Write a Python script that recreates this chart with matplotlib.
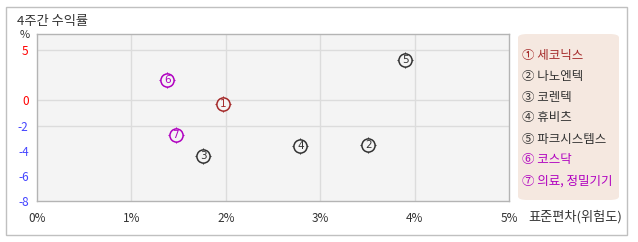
import numpy as np
import matplotlib
matplotlib.use("Agg")
import matplotlib.pyplot as plt
from matplotlib.patches import FancyBboxPatch, Rectangle

plt.rcParams['font.family'] = ['Noto Sans CJK KR', 'DejaVu Sans']

# 데이터
names = ['세코닉스', '나노엔텍', '코렌텍', '휴비츠', '파크시스템스', '코스닥', '의료,정밀기기']
nums = ['1', '2', '3', '4', '5', '6', '7']
circled = ['①', '②', '③', '④', '⑤', '⑥', '⑦']
risk = [1.97, 3.51, 1.76, 2.79, 3.90, 1.38, 1.47]      # 표준편차 (%)
ret = [-0.3, -3.55, -4.43, -3.63, 4.0, 2.07, -2.75]     # 4주간 수익률 (%)
colors = ['#a52a2a', '#333333', '#333333', '#333333', '#333333', '#b000c0', '#b000c0']

xticks = [0, 1, 2, 3, 4, 5]
yticks = [5, 0, -2, -4, -6, -8]
ygrid = [5, 0, -2]


# y축: 양수는 10px/단위, 음수는 12.5px/단위
def fwd(y):
    y = np.asarray(y, dtype=float)
    return np.where(y >= 0, y * 10.0, y * 12.5)


def inv(v):
    v = np.asarray(v, dtype=float)
    return np.where(v >= 0, v / 10.0, v / 12.5)


W, H = 638, 242
fig = plt.figure(figsize=(W / 100, H / 100), dpi=100)
fig.patch.set_facecolor('white')

# 바깥 테두리
fig.patches.append(Rectangle((6 / W, 1 - 235 / H), 621 / W, 228 / H, transform=fig.transFigure,
                             fill=False, edgecolor='#c0c0c0', linewidth=1))

ax = fig.add_axes([37 / W, 1 - 201 / H, 472 / W, 167 / H])
ax.set_facecolor('#f4f4f4')
ax.set_yscale('function', functions=(fwd, inv))
ax.set_xlim(0, 5)
ax.set_ylim(-8, 6.6)

for g in [1, 2, 3, 4]:
    ax.axvline(g, color='#dcdcdc', linewidth=1, zorder=1)
for g in ygrid:
    ax.axhline(g, color='#dcdcdc', linewidth=1, zorder=1)

for s in ax.spines.values():
    s.set_color('#b4b4b4')
    s.set_linewidth(1)

ax.set_xticks(xticks)
ax.set_xticklabels([f'{t}%' for t in xticks])
ax.set_yticks(yticks)
ax.set_yticklabels([str(t) for t in yticks])
ax.yaxis.set_minor_locator(matplotlib.ticker.NullLocator())
ax.tick_params(length=0, labelsize=8.5, colors='#333333')
ax.tick_params(axis='x', pad=8)
ax.tick_params(axis='y', pad=6)
for t, lab in zip(yticks, ax.get_yticklabels()):
    lab.set_color('#ff0000' if t >= 0 else '#4444ff')

# 점: 십자 눈금 + 원 + 번호
for i in range(len(names)):
    ax.plot(risk[i], ret[i], marker='+', markersize=11.5, markeredgewidth=0.8,
            color=colors[i], zorder=3, clip_on=False)
    ax.plot(risk[i], ret[i], marker='o', markersize=9.5, markeredgewidth=1.1,
            markerfacecolor='#f4f4f4', markeredgecolor=colors[i], zorder=4, clip_on=False)
    ax.text(risk[i], ret[i], nums[i], color=colors[i], fontsize=7.5, ha='center', va='center',
            family='DejaVu Sans', zorder=5)

fig.text(17 / W, 1 - 21 / H, '4주간 수익률', fontsize=9.5, color='#333333', ha='left', va='center')
fig.text(30 / W, 1 - 35 / H, '%', fontsize=8, color='#333333', ha='right', va='center')
fig.text(528 / W, 1 - 217 / H, '표준편차(위험도)', fontsize=9.5, color='#333333', ha='left', va='center')

# 범례 상자
fig.patches.append(FancyBboxPatch((518 / W, 1 - 200 / H), 101 / W, 166 / H,
                                  boxstyle='round,pad=0,rounding_size=0.015', transform=fig.transFigure,
                                  facecolor='#f5e8e0', edgecolor='none'))
for i in range(len(names)):
    fig.text(522 / W, 1 - (55 + 21 * i) / H, circled[i] + ' ' + names[i].replace(',', ', '),
             fontsize=9, color=colors[i], ha='left', va='center')

fig.savefig('out.png', dpi=100)
